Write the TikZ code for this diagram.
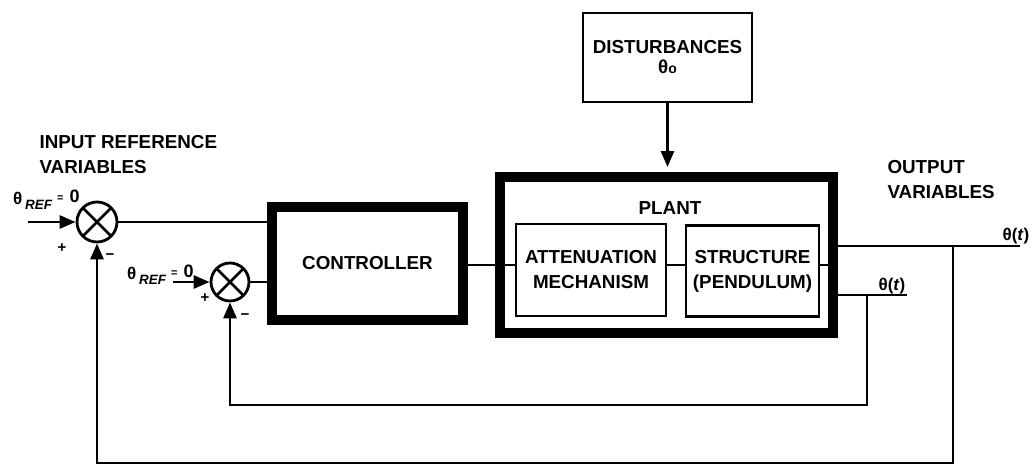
\documentclass[tikz,border=0pt]{standalone}
\usepackage{fontspec}
\setmainfont{Liberation Sans}
\usetikzlibrary{arrows.meta}
\newcommand\threflabel{θ\,\raisebox{-5pt}{\fontsize{13.5}{13.5}\selectfont\itshape REF}\hspace{5pt}\raisebox{3pt}{\fontsize{11}{11}\selectfont =}\hspace{6pt}\raisebox{2pt}{\fontsize{18}{18}\selectfont 0}}
\begin{document}
\begin{tikzpicture}[x=1pt,y=-1pt,
  conn/.style={line width=2.8pt},
  arr/.style={conn,-{Triangle[length=16pt,width=13pt]}},
  thickbox/.style={draw,line width=10pt,inner sep=0pt},
  thinbox/.style={draw,line width=2.8pt,inner sep=0pt,align=center},
  lbl/.style={font=\fontsize{18.8}{25}\selectfont\bfseries},
  sym/.style={font=\fontsize{17}{17}\selectfont\bfseries,inner sep=0pt},
  sign/.style={font=\fontsize{15}{15}\selectfont\bfseries,inner sep=0pt},
  sumj/.style={circle,draw,line width=2.8pt,minimum size=40pt,inner sep=0pt,
    path picture={\draw[line width=2.8pt] (path picture bounding box.north west)--(path picture bounding box.south east) (path picture bounding box.north east)--(path picture bounding box.south west);}},
]
\useasboundingbox (0,0) rectangle (1034,466);
% blocks
\node[thickbox,minimum width=191pt,minimum height=113pt,lbl] (ctrl) at (367.5,263.5) {CONTROLLER};
\node[thickbox,minimum width=333pt,minimum height=156pt] (plant) at (666.5,255) {};
\node[lbl,inner sep=0pt] (plantlbl) at (670,208) {PLANT};
\node[thinbox,lbl,minimum width=150pt,minimum height=92pt] (att) at (591,270) {ATTENUATION\\MECHANISM};
\node[thinbox,lbl,minimum width=133pt,minimum height=91pt] (str) at (752.5,271) {STRUCTURE\\(PENDULUM)};
\node[thinbox,lbl,minimum width=169pt,minimum height=89pt] (dist) at (667.5,57.5) {DISTURBANCES\\[-5pt]θ{\fontsize{14}{14}\selectfont o}};
% summing junctions
\node[sumj] (s1) at (97,222) {};
\node[sumj,minimum size=38pt] (s2) at (230,282) {};
% coordinates
\coordinate (in1) at (28,222);
\coordinate (in2) at (173,282);
\coordinate (mid) at (0,265);
\coordinate (o1) at (1020,246);
\coordinate (o2) at (907,295);
\coordinate (fb1) at (953,463);
\coordinate (fb2) at (867,405);
% connectors
\draw[arr] (in1) -- (s1.west);
\draw[arr] (in2) -- (s2.west);
\draw[conn] (s1.east) -- (s1.east -| ctrl.west);
\draw[conn] (s2.east) -- (s2.east -| ctrl.west);
\draw[conn] (ctrl.east |- mid) -- (att.west |- mid);
\draw[conn] (att.east |- mid) -- (str.west |- mid);
\draw[conn] (str.east |- mid) -- (plant.east |- mid);
\draw[arr,shorten >=5pt] (dist.south) -- (dist.south |- plant.north);
\draw[conn] (plant.east |- o1) -- (o1);
\draw[conn] (plant.east |- o2) -- (o2);
\draw[arr] (fb1 |- o1) -- (fb1) -| (s1.south);
\draw[arr] (fb2 |- o2) -- (fb2) -| (s2.south);
% labels
\node[lbl,anchor=west,align=left] (inlbl) at (36,155) {INPUT REFERENCE\\VARIABLES};
\node[lbl,anchor=west,align=left] (outlbl) at (884,180) {OUTPUT\\VARIABLES};
\node[sym,anchor=west] (r1) at (13,200) {\threflabel};
\node[sym,anchor=west] (r2) at (127,275) {\threflabel};
\node[sym] (t1) at (1016,236) {θ(\textit{t})};
\node[sym] (t2) at (892,286) {θ(\textit{t})};
\node[sign] (p1) at (62,248) {+};
\node[sign] (m1) at (110,257) {−};
\node[sign] (p2) at (205,298) {+};
\node[sign] (m2) at (245,317) {−};
\end{tikzpicture}
\end{document}
